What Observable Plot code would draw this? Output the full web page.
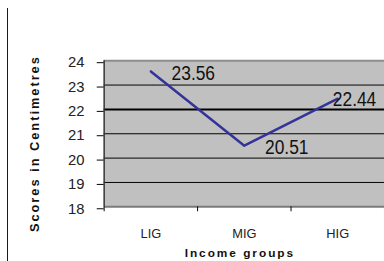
<!DOCTYPE html>
<html><head><meta charset="utf-8">
<script src="https://cdn.jsdelivr.net/npm/d3@7"></script>
<script src="https://cdn.jsdelivr.net/npm/@observablehq/plot@0.6"></script>
<style>
html,body{margin:0;padding:0;background:#fff;overflow:hidden;width:384px;height:261px}
#edge{position:absolute;left:7px;top:8px;width:1px;height:253px;background:#1a1a1a}
#chart{position:absolute;left:0;top:0}
</style></head><body>
<div id="edge"></div><div id="chart"></div>
<script>
const categories = ["LIG", "MIG", "HIG"];
const scores = [23.56, 20.51, 22.44];
const yTicks = [18, 19, 20, 21, 22, 23, 24];
const yTitle = "Scores in Centimetres";
const xTitle = "Income groups";

const data = categories.map((c, i) => ({cat: c, pos: i + 0.5, score: scores[i], label: scores[i].toFixed(2)}));
const font = "'Liberation Sans', Arial, sans-serif";

const plot = Plot.plot({
  width: 389, height: 261,
  marginLeft: 105, marginRight: 0, marginTop: 61, marginBottom: 52,
  style: {fontFamily: font, background: "transparent", overflow: "visible"},
  x: {type: "linear", domain: [0, categories.length], axis: null},
  y: {domain: [yTicks[0], yTicks[yTicks.length - 1]], axis: null},
  marks: [
    Plot.frame({fill: "#c0c0c0", stroke: null}),
    Plot.ruleY(yTicks.slice(1, -1), {stroke: "#000", strokeWidth: d => (d === 22 ? 2 : 1)}),
    Plot.ruleY([yTicks[yTicks.length - 1]], {stroke: "#8c8c8c", strokeWidth: 2}),
    Plot.ruleY([yTicks[0]], {stroke: "#7a7a7a", strokeWidth: 2}),
    Plot.ruleX([0], {stroke: "#333", strokeWidth: 1.5}),
    Plot.axisY({ticks: yTicks, label: null, tickSize: 7, tickPadding: 13, fontSize: 15, color: "#222", tickFormat: d => String(d), dy: 2, stroke: "#000"}),
    Plot.axisX({ticks: d3.range(categories.length + 1), label: null, tickSize: 5, tickFormat: () => "", stroke: "#000"}),
    Plot.axisX({ticks: data.map(d => d.pos), label: null, tickSize: 0, tickPadding: 22, fontSize: 13, color: "#222", tickFormat: v => categories[Math.floor(v)]}),
    Plot.line(data, {x: "pos", y: "score", stroke: "#333399", strokeWidth: 2.5}),
    Plot.text(data.slice(0, 2), {x: "pos", y: "score", text: "label", textAnchor: "start", dx: 21, dy: 2, fontSize: 21, fill: "#111"}),
    Plot.text(data.slice(2), {x: "pos", y: "score", text: "label", textAnchor: "start", dx: -5, dy: 1, fontSize: 21, fill: "#111"}),
    Plot.text([yTitle], {frameAnchor: "left", textAnchor: "middle", lineAnchor: "middle", rotate: -90, dx: -70, dy: 10, fontSize: 13, fontWeight: "bold", fill: "#111"}),
    Plot.text([xTitle], {frameAnchor: "bottom", textAnchor: "middle", lineAnchor: "middle", dx: -4.5, dy: 47, fontSize: 12, fontWeight: "bold", fill: "#111"})
  ]
});
const svg = d3.select(plot);
svg.selectAll("text").filter(function() { return this.textContent === yTitle || this.textContent === xTitle; })
  .style("letter-spacing", "2px");
const labels = new Set(data.map(d => d.label));
svg.selectAll("text").filter(function() { return labels.has(this.textContent); })
  .attr("textLength", 44).attr("lengthAdjust", "spacingAndGlyphs");
document.getElementById("chart").appendChild(plot);
</script>
</body></html>
